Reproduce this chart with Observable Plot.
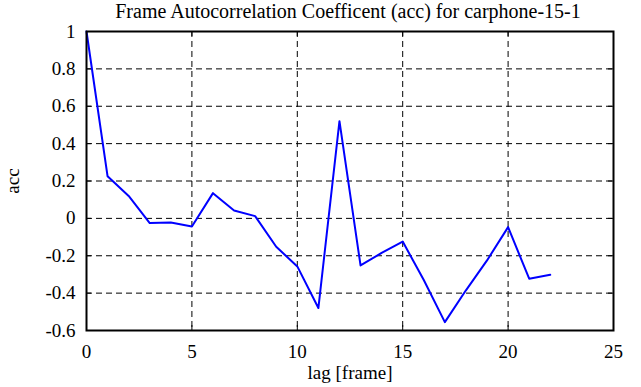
<!DOCTYPE html>
<html>
<head>
<meta charset="utf-8">
<script src="https://cdn.jsdelivr.net/npm/d3@7"></script>
<script src="https://cdn.jsdelivr.net/npm/@observablehq/plot@0.6"></script>
<style>
  html, body { margin: 0; padding: 0; background: #fff; }
</style>
</head>
<body>
<div id="chart"></div>
<script>
const lags = [0,1,2,3,4,5,6,7,8,9,10,11,12,13,14,15,16,17,18,19,20,21,22];
const acc  = [1.0,0.225,0.12,-0.025,-0.022,-0.043,0.135,0.042,0.012,-0.152,-0.257,-0.48,0.52,-0.252,-0.185,-0.124,-0.33,-0.555,-0.385,-0.225,-0.047,-0.323,-0.302];
const xTicks = [0,5,10,15,20,25];
const yTicks = [-0.6,-0.4,-0.2,0,0.2,0.4,0.6,0.8,1];
const xGrid = [5,10,15,20];
const yGrid = [-0.4,-0.2,0,0.2,0.4,0.6,0.8];
const title = "Frame Autocorrelation Coefficent (acc) for carphone-15-1";

const data = lags.map((l, i) => ({lag: l, acc: acc[i]}));
const W = 641, H = 387, mL = 86, mR = 28, mT = 31, mB = 57;
const pw = W - mL - mR, ph = H - mT - mB;
const FS = 19;

const chart = Plot.plot({
  width: W, height: H,
  marginLeft: mL, marginRight: mR, marginTop: mT, marginBottom: mB,
  style: {fontFamily: "'Liberation Serif', 'Times New Roman', serif", fontSize: FS + "px", color: "#000", background: "#fff"},
  x: {domain: [0, 25]},
  y: {domain: [-0.6, 1]},
  marks: [
    Plot.ruleX(xGrid, {x: d => d, stroke: "#000", strokeWidth: 1, strokeDasharray: "6,4", strokeOpacity: 1}),
    Plot.ruleY(yGrid, {y: d => d, stroke: "#000", strokeWidth: 1, strokeDasharray: "6,4", strokeOpacity: 1}),
    Plot.tickY(yTicks, {y: d => d, insetRight: pw - 5, stroke: "#000", strokeWidth: 1}),
    Plot.tickY(yTicks, {y: d => d, insetLeft: pw - 5, stroke: "#000", strokeWidth: 1}),
    Plot.tickX(xTicks, {x: d => d, insetTop: ph - 5, stroke: "#000", strokeWidth: 1}),
    Plot.tickX(xTicks, {x: d => d, insetBottom: ph - 5, stroke: "#000", strokeWidth: 1}),
    Plot.line(data, {x: "lag", y: "acc", stroke: "#0000ff", strokeWidth: 2}),
    Plot.frame({stroke: "#000", strokeWidth: 2}),
    Plot.axisX(xTicks, {tickSize: 0, tickPadding: 14, tickFormat: d => String(d), label: "lag [frame]", labelAnchor: "center", labelArrow: "none", labelOffset: 48, fontSize: FS}),
    Plot.axisY(yTicks, {tickSize: 0, tickPadding: 11, tickFormat: d => String(d), label: "acc", labelAnchor: "center", labelArrow: "none", labelOffset: 81, fontSize: FS}),
    Plot.text([title], {text: d => d, frameAnchor: "top", dx: -2, dy: -20, fontSize: 20, textAnchor: "middle", lineAnchor: "middle"})
  ]
});
document.getElementById("chart").appendChild(chart);
</script>
</body>
</html>
